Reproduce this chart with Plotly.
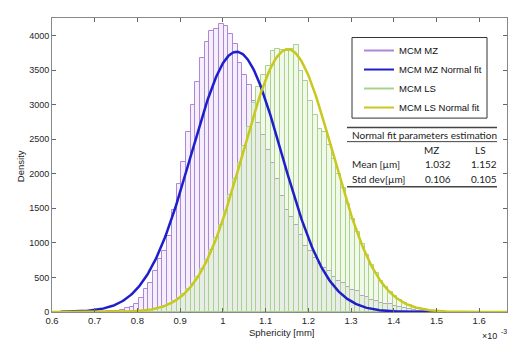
import numpy as np
import plotly.graph_objects as go

# ---------------- data ----------------
BIN_START = 0.71
BIN_WIDTH = 0.011

mz_density = [3, 5, 8, 12, 18, 35, 55, 70, 120, 200,
              330, 420, 600, 760, 880, 1100, 1480, 1850, 2170, 2600,
              3000, 3320, 3680, 3900, 4060, 4100, 4160, 4130, 4020, 3870,
              3600, 3430, 3290, 3050, 2740, 2560, 2350, 2150, 1930, 1680,
              1470, 1380, 1260, 1110, 960, 880, 780, 700, 640, 600,
              510, 450, 420, 360, 320, 300, 230, 210, 170, 160,
              125, 120, 110, 80, 70, 55, 40, 30, 20, 15,
              10, 6, 4, 2]

ls_density = [0, 1, 1, 2, 3, 4, 6, 9, 13, 18,
              26, 36, 50, 65, 88, 118, 155, 200, 255, 330,
              410, 510, 620, 750, 900, 1070, 1260, 1460, 1690, 1920,
              2160, 2400, 2680, 3020, 3250, 3430, 3560, 3780, 3800, 3790,
              3780, 3800, 3860, 3480, 3340, 3050, 2850, 2650, 2600, 2420,
              2220, 2000, 1790, 1560, 1350, 1160, 980, 820, 680, 560,
              450, 360, 290, 230, 175, 130, 100, 75, 55, 40,
              30, 20, 15, 10, 6, 4, 2]

series_names = ["MCM MZ", "MCM MZ Normal fit", "MCM LS", "MCM LS Normal fit"]
fit_mean = {"MZ": 1.032, "LS": 1.152}   # x 10^-3 mm
fit_std = {"MZ": 0.106, "LS": 0.105}
fit_range = {"MZ": (0.62, 1.52), "LS": (0.60, 1.665)}

x_tickvals = [0.6, 0.7, 0.8, 0.9, 1.0, 1.1, 1.2, 1.3, 1.4, 1.5, 1.6]
x_ticktext = ["0.6", "0.7", "0.8", "0.9", "1", "1.1", "1.2", "1.3", "1.4", "1.5", "1.6"]
y_tickvals = [0, 500, 1000, 1500, 2000, 2500, 3000, 3500, 4000]

table_header = ["MZ", "LS"]
table_rows = [("Mean [µm]", "1.032", "1.152"), ("Std dev[µm]", "0.106", "0.105")]

# ---------------- styles ----------------
PURPLE_EDGE = "rgb(175,135,215)"
PURPLE_FILL = "rgba(205,180,235,0.22)"
GREEN_EDGE = "rgb(170,210,140)"
GREEN_FILL = "rgba(205,235,180,0.28)"
BLUE = "rgb(30,30,205)"
YELLOW = "rgb(200,200,30)"
FONT = "Liberation Sans, Arial, sans-serif"
TFONT = "Lato, Open Sans, sans-serif"

mz_x = [BIN_START + BIN_WIDTH * i for i in range(len(mz_density))]
ls_x = [BIN_START + BIN_WIDTH * i for i in range(len(ls_density))]


def normal_fit(key):
    lo, hi = fit_range[key]
    xs = np.linspace(lo, hi, 400)
    m, s = fit_mean[key], fit_std[key]
    ys = 1000.0 / (s * np.sqrt(2 * np.pi)) * np.exp(-0.5 * ((xs - m) / s) ** 2)
    return xs, ys


fig = go.Figure()
fig.add_trace(go.Bar(x=mz_x, y=mz_density, width=BIN_WIDTH, name=series_names[0],
                     marker=dict(color=PURPLE_FILL, line=dict(color=PURPLE_EDGE, width=1)),
                     showlegend=False))
fig.add_trace(go.Bar(x=ls_x, y=ls_density, width=BIN_WIDTH, name=series_names[2],
                     marker=dict(color=GREEN_FILL, line=dict(color=GREEN_EDGE, width=1)),
                     showlegend=False))
xs, ys = normal_fit("MZ")
fig.add_trace(go.Scatter(x=xs, y=ys, mode="lines", line=dict(color=BLUE, width=2.5),
                         name=series_names[1], showlegend=False))
xs, ys = normal_fit("LS")
fig.add_trace(go.Scatter(x=xs, y=ys, mode="lines", line=dict(color=YELLOW, width=2.5),
                         name=series_names[3], showlegend=False))

# legend entries (line samples as in the original)
for name, col in zip(series_names, [PURPLE_EDGE, BLUE, GREEN_EDGE, YELLOW]):
    fig.add_trace(go.Scatter(x=[None], y=[None], mode="lines", name=name,
                             line=dict(color=col, width=2)))

FW, FH = 509, 341
# plot area in window pixels: left 52, right 507, top 18, bottom 311.7
L, R, T, B = 52, 507, 18, 311.7
W, H = R - L, B - T


def px(xp):
    return (xp - L) / W


def py(yp):
    return (B - yp) / H


fig.update_layout(
    width=FW, height=FH,
    margin=dict(l=L, r=FW - R, t=T, b=FH - B, pad=0),
    paper_bgcolor="white", plot_bgcolor="white",
    barmode="overlay", bargap=0,
    font=dict(family=FONT, size=9, color="#262626"),
    showlegend=True,
    legend=dict(x=px(359), y=py(36), xanchor="left", yanchor="top",
                bgcolor="rgba(0,0,0,0)", borderwidth=0,
                font=dict(family=FONT, size=9.5, color="#111"),
                itemwidth=30, tracegroupgap=0),
    xaxis=dict(range=[0.6, 1.665], tickvals=x_tickvals, ticktext=x_ticktext,
               ticks="inside", ticklen=4, tickcolor="#666", showline=True,
               linecolor="#888", linewidth=1, mirror="ticks", showgrid=False,
               zeroline=False, tickfont=dict(size=9.5)),
    yaxis=dict(range=[0, 4252], tickvals=y_tickvals, ticks="inside", ticklen=4,
               tickcolor="#666", showline=True, linecolor="#888", linewidth=1,
               mirror="ticks", showgrid=False, zeroline=False, tickfont=dict(size=9)),
)

shapes = [
    # legend box
    dict(type="rect", xref="paper", yref="paper", x0=px(352), x1=px(487), y0=py(118), y1=py(37.5),
         line=dict(color="#333", width=1), fillcolor="rgba(0,0,0,0)"),
    # table rules
    dict(type="line", xref="paper", yref="paper", x0=px(347), x1=px(497), y0=py(127.5), y1=py(127.5),
         line=dict(color="#444", width=1.5)),
    dict(type="line", xref="paper", yref="paper", x0=px(347), x1=px(497), y0=py(141.5), y1=py(141.5),
         line=dict(color="#444", width=1)),
    dict(type="line", xref="paper", yref="paper", x0=px(347), x1=px(497), y0=py(186.5), y1=py(186.5),
         line=dict(color="#444", width=1.5)),
]
fig.update_layout(shapes=shapes)

ann = []


def add_text(text, xp, yp, xanchor="center", size=10, family=TFONT, angle=0):
    ann.append(dict(text=text, xref="paper", yref="paper", x=px(xp), y=py(yp),
                    xanchor=xanchor, yanchor="middle", showarrow=False, textangle=angle,
                    font=dict(family=family, size=size, color="#222")))


add_text("Normal fit parameters estimation", 349.5, 134.5, "left", 10)
add_text(table_header[0], 431, 150)
add_text(table_header[1], 480, 150)
for (label, v1, v2), yp in zip(table_rows, [164, 179]):
    add_text(label, 349.5, yp, "left", 10)
    add_text(v1, 438, yp)
    add_text(v2, 484, yp)

add_text("Sphericity [mm]", 281, 332, "center", 9.5, FONT)
add_text("Density", 20, 166, "center", 9.5, FONT, -90)
add_text("×10", 499, 336, "right", 9, FONT)
add_text("-3", 498.5, 331, "left", 7, FONT)
fig.update_layout(annotations=ann)

# remove the page's default 8px body margin so the figure fills the window exactly
fig.write_html("out.html", config={"displayModeBar": False},
               post_script="document.body.style.margin='0px';document.body.style.overflow='hidden';")
